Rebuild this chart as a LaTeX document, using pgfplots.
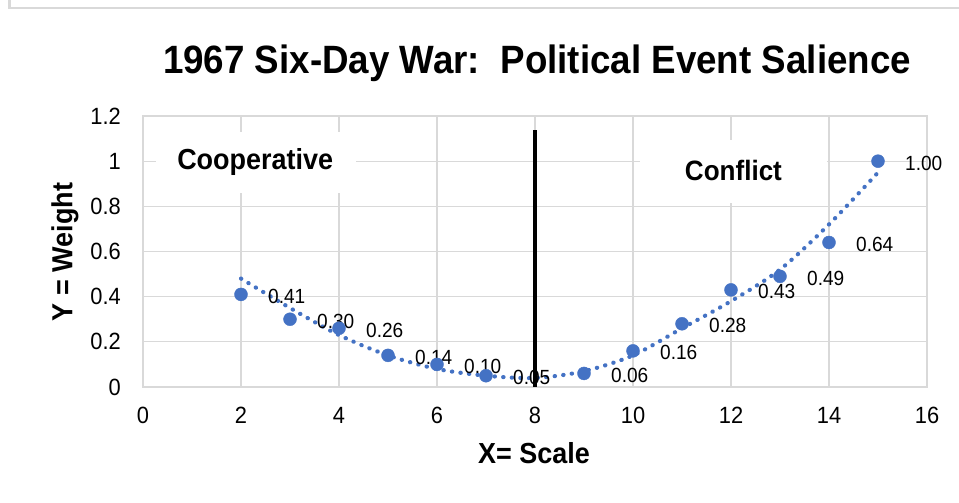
\documentclass[border=0pt]{standalone}
\usepackage{fontspec}
\setmainfont{Liberation Sans}[FakeStretch=0.93]
\usepackage{pgfplots}
\usepackage{pgfplotstable}
\pgfplotsset{compat=1.18}
\definecolor{ptblue}{HTML}{4472C4}
\definecolor{gridgray}{HTML}{D9D9D9}
\pgfplotstableread{
x y lab
2 0.41 0.41
3 0.30 0.30
4 0.26 0.26
5 0.14 0.14
6 0.10 0.10
7 0.05 0.05
9 0.06 0.06
10 0.16 0.16
11 0.28 0.28
12 0.43 0.43
13 0.49 0.49
14 0.64 0.64
15 1.00 1.00
}\pts
\pgfplotstableread{
x y
2 0.48
3 0.35
4 0.23
5 0.14
6 0.08
7 0.05
8 0.04
9 0.07
10 0.14
11 0.26
12 0.38
13 0.52
14 0.72
15 0.95
}\trend
\begin{document}
\begin{tikzpicture}[x=1pt,y=1pt]
\path[use as bounding box] (0,0) rectangle (959,503);
\fill[white] (0,0) rectangle (959,503);
\draw[gridgray, line width=2.5pt] (9.5,503) -- (9.5,495) -- (959,495);
\begin{axis}[
  at={(143pt,116pt)}, anchor=south west,
  scale only axis, width=784pt, height=271pt,
  xmin=0, xmax=16, ymin=0, ymax=1.2,
  xtick={0,2,4,6,8,10,12,14,16},
  ytick={0,0.2,0.4,0.6,0.8,1,1.2},
  /pgf/number format/assume math mode=true,
  tick label style={font=\fontsize{23.5}{25}\selectfont, inner sep=0pt},
  yticklabel style={xshift=-22pt},
  xticklabel style={yshift=-20pt},
  major tick length=0pt,
  grid=major,
  major grid style={draw=gridgray, line width=1.3pt},
  axis line style={draw=gridgray, line width=1.5pt},
  clip=false,
]
\addplot[ptblue, line width=4.2pt, line cap=round, dash pattern=on 0.3pt off 8.3pt, smooth] table[x=x,y=y] {\trend};
\addplot[only marks, mark=*, mark size=6.5pt, mark options={draw=ptblue, fill=ptblue},
  point meta=explicit symbolic,
  nodes near coords,
  every node near coord/.style={anchor=west, inner sep=0pt, xshift=27pt, yshift=-2pt, font=\fontsize{20.5}{22}\selectfont, text=black}]
  table[x=x, y=y, meta=lab] {\pts};
\addplot[black, line width=3.5pt] coordinates {(8,0) (8,1.14)};
\node[fill=white, minimum width=200pt, minimum height=61pt, inner sep=0pt] at (axis cs:2.31,0.996) {};
\node[font=\bfseries\fontsize{29}{31}\selectfont, inner sep=0pt] at (axis cs:2.29,0.996) {Cooperative};
\node[fill=white, minimum width=187pt, minimum height=63pt, inner sep=0pt] at (axis cs:12.05,0.954) {};
\node[font=\bfseries\fontsize{28}{30}\selectfont, inner sep=0pt] at (axis cs:12.05,0.96) {Conflict};
\end{axis}
\node[font=\bfseries\fontsize{39.5}{42}\selectfont, inner sep=0pt] at (537,440) {1967 Six-Day War:\ \ Political Event Salience};
\node[font=\bfseries\fontsize{29}{31}\selectfont, inner sep=0pt] at (534,50) {X= Scale};
\node[font=\bfseries\fontsize{29}{31}\selectfont, inner sep=0pt, rotate=90] at (65,251) {Y = Weight};
\end{tikzpicture}
\end{document}
